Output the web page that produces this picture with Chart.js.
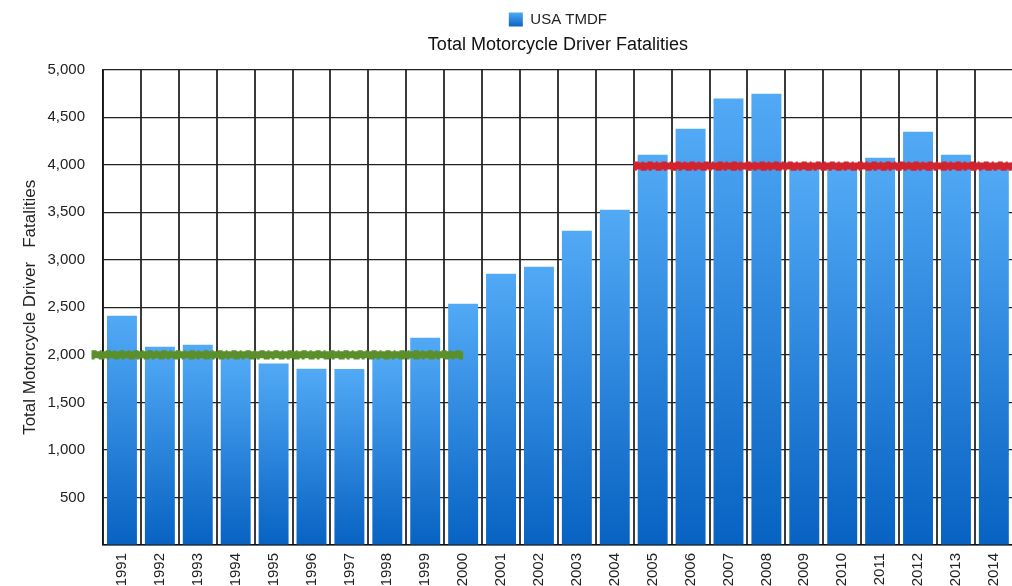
<!DOCTYPE html>
<html>
<head>
<meta charset="utf-8">
<script src="https://cdn.jsdelivr.net/npm/chart.js@4.4.1/dist/chart.umd.min.js"></script>
<style>
  html, body { margin: 0; padding: 0; background: #fff; overflow: hidden; }
  #wrap { position: relative; width: 1020px; height: 590px; }
</style>
</head>
<body>
<div id="wrap"><canvas id="chart"></canvas></div>
<script>
/* =========================
   DADOS
========================= */
const years = ["1991", "1992", "1993", "1994", "1995", "1996", "1997", "1998", "1999", "2000",
  "2001", "2002", "2003", "2004", "2005", "2006", "2007", "2008", "2009", "2010",
  "2011", "2012", "2013", "2014"];
const fatalities = [2410, 2085, 2105, 1975, 1908, 1853, 1852, 1980, 2180, 2537,
  2853, 2926, 3305, 3526, 4105, 4379, 4695, 4747, 3970, 3960,
  4074, 4347, 4105, 3960];
const yTicks = [500, 1000, 1500, 2000, 2500, 3000, 3500, 4000, 4500, 5000];

// linhas de nível (posição em índice de categoria)
const lowLevel = 2000;
const lowSpan = [-0.8, 9];
const highLevel = 3985;
const highSpan = [13.5, 23.6];

const font = "'Liberation Sans', Arial, sans-serif";

function barGradient(ctx) {
  const chart = ctx.chart;
  if (!chart.chartArea || ctx.type !== "data") return "#2f86e0";
  const y = chart.scales.y;
  const top = y.getPixelForValue(ctx.raw);
  const base = y.getPixelForValue(0);
  const g = chart.ctx.createLinearGradient(0, top, 0, base);
  g.addColorStop(0, "#52aaf6");
  g.addColorStop(1, "#0762c2");
  return g;
}

function levelLine(span, level, color, width, dash) {
  return {
    type: "line",
    xAxisID: "x2",
    data: [{ x: span[0], y: level }, { x: span[1], y: level }],
    borderColor: color,
    borderWidth: width,
    borderDash: dash,
    pointRadius: 0,
    clip: false,
    order: -1
  };
}

// linha "rabiscada": traço grosso + bordas tracejadas
function roughLine(span, level, main, light) {
  return [
    levelLine(span, level, main, 7, []),
    levelLine(span, level + 38, main, 2, [5, 3, 2, 4]),
    levelLine(span, level - 38, main, 2, [3, 4, 6, 2]),
    levelLine(span, level + 10, light, 1.5, [2, 5, 4, 3]),
    levelLine(span, level - 12, light, 1.5, [4, 3, 2, 6])
  ];
}

const canvas = document.getElementById("chart");

new Chart(canvas, {
  type: "bar",
  data: {
    labels: years,
    datasets: [
      {
        type: "bar",
        label: "USA TMDF",
        data: fatalities,
        backgroundColor: barGradient,
        grouped: false,
        barPercentage: 0.79,
        categoryPercentage: 1.0,
        order: 1
      },
      ...roughLine(lowSpan, lowLevel, "#5b8f2c", "#7fae4c"),
      ...roughLine(highSpan, highLevel, "#d1242f", "#e6616a")
    ]
  },
  options: {
    responsive: true,
    maintainAspectRatio: false,
    animation: false,
    layout: { padding: { top: 0, right: 0, left: 0, bottom: 0 } },
    plugins: {
      legend: {
        position: "top",
        fullSize: false,
        weight: 3000,
        labels: {
          boxWidth: 14,
          boxHeight: 14,
          padding: 12,
          color: "#222",
          font: { family: font, size: 15 },
          generateLabels: chart => {
            const g = chart.ctx.createLinearGradient(0, 12, 0, 27);
            g.addColorStop(0, "#52aaf6");
            g.addColorStop(1, "#0762c2");
            return [{
              text: "USA TMDF",
              fillStyle: g,
              strokeStyle: "rgba(0,0,0,0)",
              lineWidth: 0,
              fontColor: "#222",
              datasetIndex: 0
            }];
          }
        }
      },
      title: {
        display: true,
        text: "Total Motorcycle Driver Fatalities",
        fullSize: false,
        color: "#111",
        font: { family: font, size: 18, weight: "normal" },
        padding: { top: -3, bottom: 14 }
      },
      tooltip: { enabled: false }
    },
    scales: {
      x: {
        type: "category",
        offset: true,
        grid: { offset: true, color: "#3a3a3a", lineWidth: 2, drawTicks: false },
        border: { color: "#111", width: 1.5 },
        ticks: {
          minRotation: 90,
          maxRotation: 90,
          padding: 8,
          color: "#222",
          font: { family: font, size: 15 }
        },
        afterFit: scale => { scale.height = 45; }
      },
      x2: {
        type: "linear",
        min: -0.5,
        max: 23.5,
        offset: false,
        display: false
      },
      y: {
        min: 0,
        max: 5000,
        afterBuildTicks: scale => {
          scale.ticks = [0].concat(yTicks).map(v => ({ value: v }));
        },
        grid: { color: "#222", lineWidth: 1.2, drawTicks: false },
        border: { color: "#111", width: 1.5 },
        ticks: {
          padding: 18,
          color: "#222",
          font: { family: font, size: 15 },
          callback: v => (v === 0 ? "" : v.toLocaleString("en-US"))
        },
        title: {
          display: true,
          text: "Total Motorcycle Driver   Fatalities",
          color: "#222",
          font: { family: font, size: 17 },
          padding: { top: 20, bottom: 0 }
        },
        afterFit: scale => { scale.width = 103; }
      }
    }
  }
});
</script>
</body>
</html>
